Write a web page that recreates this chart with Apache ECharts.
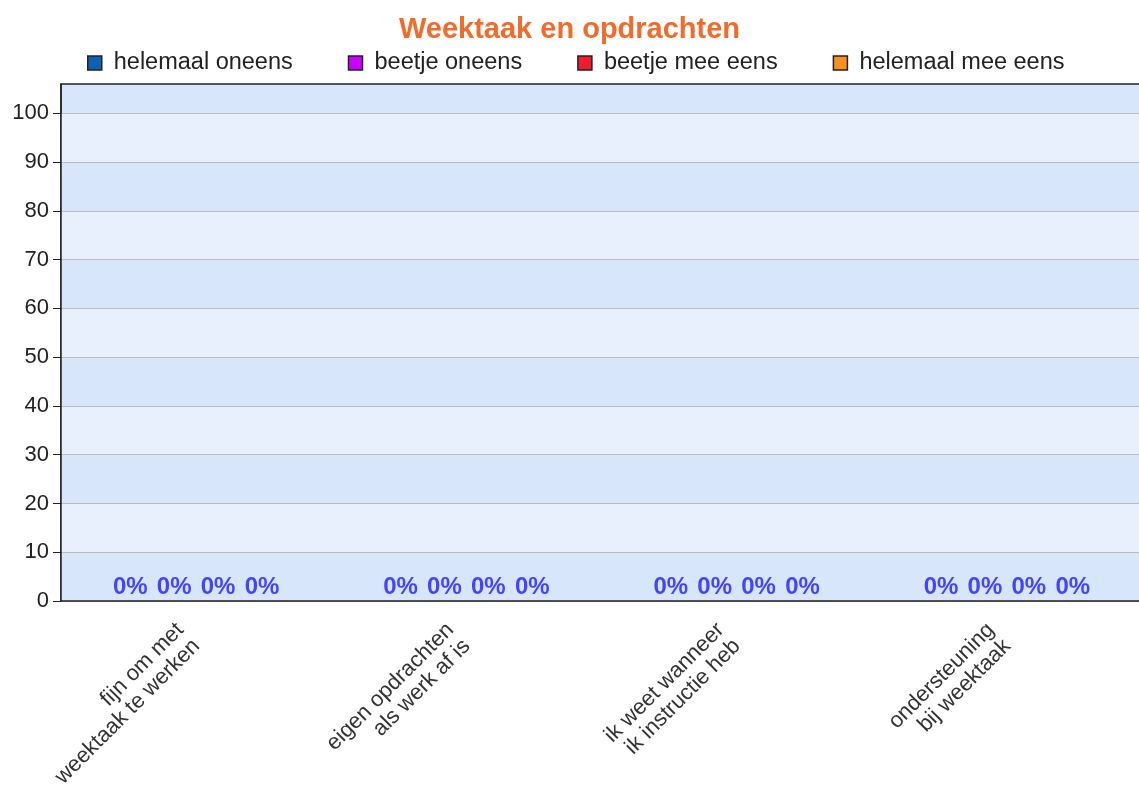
<!DOCTYPE html>
<html>
<head>
<meta charset="utf-8">
<title>Weektaak en opdrachten</title>
<script src="https://cdn.jsdelivr.net/npm/echarts@6/dist/echarts.min.js"></script>
<style>
html, body {
  margin: 0;
  padding: 0;
  background: #fff;
}
#chart {
  width: 1139px;
  height: 789px;
}
</style>
</head>
<body>
<div id="chart"></div>
<script>
// data
const categories = [
  'fijn om met\nweektaak te werken',
  'eigen opdrachten\nals werk af is',
  'ik weet wanneer\nik instructie heb',
  'ondersteuning\nbij weektaak'
]
const seriesNames = ['helemaal oneens', 'beetje oneens', 'beetje mee eens', 'helemaal mee eens']
const helemaalOneens = [0, 0, 0, 0]
const beetjeOneens = [0, 0, 0, 0]
const beetjeMeeEens = [0, 0, 0, 0]
const helemaalMeeEens = [0, 0, 0, 0]
const yTicks = [0, 10, 20, 30, 40, 50, 60, 70, 80, 90, 100]

const colors = ['#0b62b3', '#cc00ff', '#ee1c2e', '#f7901e']
const values = [helemaalOneens, beetjeOneens, beetjeMeeEens, helemaalMeeEens]

const chart = echarts.init(document.getElementById('chart'))

let option = {
  animation: false,
  color: colors,
  textStyle: {
    fontFamily: 'Liberation Sans, Arial, sans-serif'
  },
  title: {
    text: 'Weektaak en opdrachten',
    left: 'center',
    top: 10,
    textStyle: {
      color: '#f26b2a',
      fontSize: 29,
      fontWeight: 'bold'
    }
  },
  legend: {
    top: 46,
    left: 82,
    icon: 'rect',
    itemWidth: 14,
    itemHeight: 14,
    itemGap: 55,
    itemStyle: {
      borderColor: '#222',
      borderWidth: 1.5
    },
    textStyle: {
      fontSize: 23.5,
      color: '#222',
      padding: [0, 0, 0, 7]
    },
    data: seriesNames
  },
  grid: {
    left: 61,
    right: -3,
    top: 84,
    bottom: 188,
    outerBoundsMode: 'none',
    show: true,
    backgroundColor: '#d8e6fc',
    borderColor: '#222',
    borderWidth: 1.5
  },
  xAxis: {
    type: 'category',
    data: categories,
    axisLine: {
      lineStyle: { color: '#222', width: 1.5 }
    },
    axisTick: {
      alignWithLabel: true,
      length: 7,
      lineStyle: { color: '#222' }
    },
    axisLabel: {
      rotate: 45,
      interval: 0,
      fontSize: 22,
      color: '#333',
      margin: 26,
      lineHeight: 23,
      padding: [0, 11, 0, 0]
    }
  },
  yAxis: {
    type: 'value',
    min: 0,
    max: 106,
    interval: 10,
    axisLine: {
      show: true,
      lineStyle: { color: '#222', width: 1.5 }
    },
    axisTick: {
      show: true,
      length: 8,
      customValues: yTicks,
      lineStyle: { color: '#222' }
    },
    axisLabel: {
      fontSize: 22,
      color: '#222',
      margin: 12,
      customValues: yTicks
    },
    splitLine: {
      lineStyle: { color: '#bdbdbd', width: 1.2 }
    },
    splitArea: {
      show: true,
      areaStyle: {
        color: ['#d8e6fc', '#e8f0fe']
      }
    }
  },
  series: seriesNames.map((name, i) => ({
    name: name,
    type: 'bar',
    data: values[i],
    barGap: '0%',
    barCategoryGap: '35%',
    label: {
      show: true,
      position: 'top',
      distance: 2,
      formatter: '{c}%',
      fontSize: 24,
      fontWeight: 'bold',
      color: '#4444ff'
    }
  }))
}
chart.setOption(option)
</script>
</body>
</html>
